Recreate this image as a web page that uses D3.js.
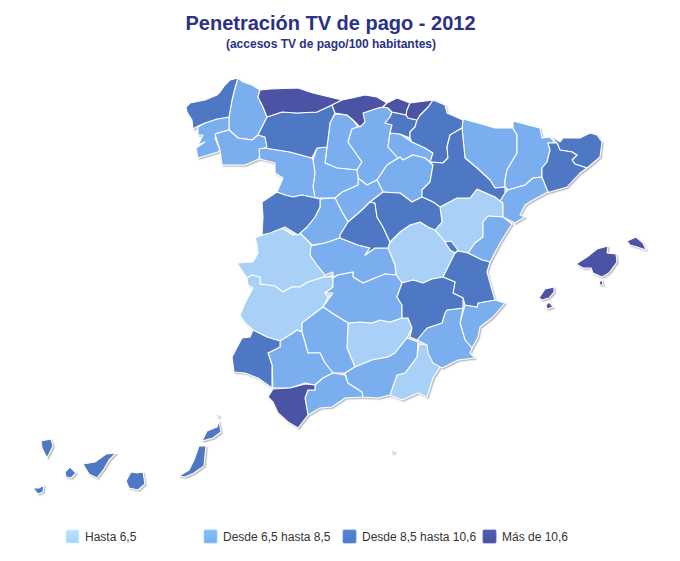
<!DOCTYPE html>
<html>
<head>
<meta charset="utf-8">
<script src="https://d3js.org/d3.v7.min.js"></script>
<style>
  html, body { margin: 0; background: #fff; }
  text { font-family: "Liberation Sans", Arial, sans-serif; }
</style>
</head>
<body>
<div id="chart"></div>
<script>
var chartTitle = 'Penetración TV de pago - 2012';
var chartSubtitle = '(accesos TV de pago/100 habitantes)';
var bandLabels = ['Hasta 6,5', 'Desde 6,5 hasta 8,5', 'Desde 8,5 hasta 10,6', 'Más de 10,6'];
var bandColors = ['#a9d1f7', '#7aaeee', '#4f78c4', '#4b52a4'];

// province outlines, one list per legend band
var hasta65 = [
  ['Cáceres', [[255,238],[262,235],[272,230],[282,228],[293,235],[300,233],[312,245],[310,255],[317,265],[325,275],[324,277],[308,282],[300,287],[292,287],[283,292],[275,286],[260,284],[260,277],[252,275],[247,278],[237,263],[253,262],[258,253],[257,245]]],
  ['Badajoz', [[247,278],[252,275],[260,277],[260,284],[275,286],[283,292],[292,287],[300,287],[308,282],[324,277],[333,277],[333,287],[325,293],[328,297],[323,307],[302,323],[302,332],[297,330],[293,333],[280,341],[267,337],[253,330],[245,323],[240,315],[245,303],[253,288],[248,285]]],
  ['Teruel', [[440,207],[457,198],[470,198],[477,189],[495,197],[500,201],[503,203],[503,217],[488,216],[483,222],[483,237],[475,243],[468,253],[458,251],[453,247],[445,242],[435,230],[442,222]]],
  ['Cuenca', [[388,248],[390,242],[400,232],[410,225],[420,222],[428,227],[435,230],[445,242],[450,248],[455,253],[445,273],[443,278],[432,279],[423,283],[413,280],[402,283],[396,275],[395,265]]],
  ['Jaén', [[348,323],[360,322],[372,323],[380,320],[390,322],[402,318],[408,318],[412,328],[407,338],[395,353],[388,357],[372,360],[355,367],[347,348]]],
  ['Almería', [[419,344],[427,345],[432,358],[440,367],[433,378],[427,397],[418,393],[402,400],[390,395],[397,375],[405,373],[417,357]]]
];
var desde65a85 = [
  ['Lugo', [[238,78],[243,82],[252,85],[260,90],[258,97],[263,107],[267,117],[258,135],[252,140],[238,138],[229,130],[229,117],[232,100],[235,88]]],
  ['Pontevedra', [[198,127],[205,123],[217,119],[229,117],[229,130],[217,133],[215,138],[220,150],[218,152],[198,158],[196,148],[205,142],[198,145],[203,135],[198,135]]],
  ['Ourense', [[215,134],[229,130],[238,138],[252,140],[258,135],[265,137],[267,147],[260,150],[259,159],[245,165],[222,165],[220,150]]],
  ['Palencia', [[335,114],[347,115],[353,120],[358,127],[352,129],[348,142],[362,162],[357,170],[337,168],[325,163],[327,147],[330,123]]],
  ['Burgos', [[358,127],[363,113],[378,108],[383,107],[388,108],[392,112],[390,117],[385,123],[392,125],[390,133],[388,147],[398,158],[400,157],[387,165],[377,180],[367,185],[358,178],[357,170],[362,162],[348,142],[352,129]]],
  ['La Rioja', [[390,133],[400,134],[412,142],[425,148],[433,153],[430,162],[425,158],[413,155],[403,160],[398,158],[388,147]]],
  ['Soria', [[400,157],[403,160],[413,155],[425,158],[430,162],[433,165],[430,182],[422,190],[422,197],[412,202],[400,193],[397,193],[383,192],[377,180],[387,165]]],
  ['Segovia', [[335,198],[342,192],[358,185],[358,178],[367,185],[377,180],[383,192],[370,202],[362,210],[348,222],[342,212]]],
  ['Valladolid', [[313,160],[317,148],[327,147],[325,163],[337,168],[357,170],[358,178],[358,185],[342,192],[335,198],[320,198],[315,198],[313,187],[315,173]]],
  ['Zamora', [[259,149],[265,148],[290,152],[312,158],[313,160],[315,173],[313,187],[315,198],[302,195],[293,197],[285,195],[277,192],[283,178],[275,173],[275,163],[260,159]]],
  ['Ávila', [[320,199],[335,198],[342,212],[348,222],[340,235],[340,238],[325,243],[312,245],[300,233],[307,227],[315,217],[320,207]]],
  ['Toledo', [[311,246],[325,243],[340,238],[358,245],[370,248],[365,255],[375,248],[388,248],[395,265],[396,275],[385,274],[363,283],[353,277],[353,272],[338,275],[333,277],[333,272],[325,275],[317,265],[310,255]]],
  ['Ciudad Real', [[333,278],[338,275],[353,272],[353,277],[363,283],[385,274],[396,275],[402,283],[397,297],[402,305],[402,318],[390,322],[380,320],[372,323],[360,322],[348,323],[335,315],[323,307],[333,293],[325,293],[333,287]]],
  ['Huesca', [[463,119],[478,123],[495,128],[513,128],[517,135],[517,153],[507,170],[505,180],[505,187],[495,188],[490,180],[477,168],[465,158],[462,128]]],
  ['Lleida', [[513,121],[528,125],[540,128],[542,138],[550,137],[555,143],[548,143],[550,150],[547,162],[542,168],[542,177],[533,178],[525,185],[508,190],[505,187],[505,180],[507,170],[517,153],[517,135],[513,128]]],
  ['Tarragona', [[533,178],[542,177],[548,192],[533,200],[525,205],[520,215],[525,217],[515,223],[503,217],[503,203],[500,201],[505,193],[508,190],[525,185]]],
  ['Castellón', [[488,216],[503,217],[512,224],[500,243],[490,262],[482,260],[468,253],[475,243],[483,237],[483,222]]],
  ['Alicante', [[465,305],[477,307],[478,303],[495,300],[505,303],[493,317],[480,327],[478,337],[472,348],[465,340],[460,323],[463,312]]],
  ['Murcia', [[447,310],[463,308],[460,323],[465,340],[472,348],[470,353],[475,358],[458,360],[442,368],[433,363],[428,353],[427,345],[417,340],[427,328],[442,323],[445,313]]],
  ['Córdoba', [[323,307],[335,315],[348,323],[347,348],[355,367],[345,373],[333,373],[325,363],[320,353],[308,353],[302,332],[302,323]]],
  ['Sevilla', [[280,341],[293,333],[297,330],[302,332],[308,353],[320,353],[325,363],[333,373],[323,378],[315,385],[305,383],[290,388],[273,388],[272,365],[268,353],[280,347]]],
  ['Málaga', [[308,390],[315,390],[315,385],[323,378],[333,373],[345,375],[348,383],[362,392],[363,397],[345,398],[332,407],[320,408],[308,415],[305,398]]],
  ['Granada', [[345,373],[355,367],[372,360],[388,357],[395,353],[407,338],[418,342],[417,357],[405,373],[397,375],[390,395],[378,398],[363,397],[362,392],[348,383]]]
];
var desde85a106 = [
  ['A Coruña', [[186,107],[190,103],[205,100],[217,95],[220,92],[225,85],[230,80],[238,78],[235,88],[232,100],[229,117],[217,119],[205,123],[198,126],[193,129],[192,120],[187,112]]],
  ['León', [[267,117],[282,112],[297,113],[317,112],[332,105],[335,113],[330,123],[327,147],[317,148],[312,158],[290,152],[265,148],[267,147],[265,137],[258,135]]],
  ['Álava', [[392,112],[397,113],[406,115],[408,118],[417,120],[415,127],[410,132],[410,138],[400,134],[390,133],[392,125],[385,123],[390,117]]],
  ['Navarra', [[433,100],[445,105],[447,113],[463,120],[462,128],[450,135],[447,147],[448,158],[443,163],[430,162],[433,153],[425,148],[412,142],[410,138],[410,132],[415,127],[417,120],[420,115],[428,107]]],
  ['Zaragoza', [[462,128],[465,158],[477,168],[490,180],[495,188],[505,187],[505,193],[500,201],[495,197],[477,189],[470,198],[457,198],[440,207],[433,202],[422,197],[422,190],[430,182],[433,165],[430,162],[443,163],[448,158],[447,147],[450,135]]],
  ['Girona', [[550,135],[560,142],[563,138],[580,138],[590,133],[597,135],[602,142],[600,157],[593,163],[587,168],[575,164],[572,160],[577,155],[572,152],[560,150],[557,143]]],
  ['Barcelona', [[548,143],[557,143],[560,150],[572,152],[577,155],[572,160],[575,164],[587,168],[580,173],[567,187],[550,192],[548,192],[542,177],[542,168],[547,162],[550,150]]],
  ['Salamanca', [[262,202],[277,192],[285,195],[293,197],[302,195],[320,199],[320,207],[315,217],[307,227],[298,235],[285,227],[270,233],[262,235],[263,217]]],
  ['Madrid', [[348,222],[362,210],[370,202],[375,203],[377,217],[383,227],[390,242],[388,248],[375,248],[365,255],[370,248],[358,245],[340,238],[340,235]]],
  ['Guadalajara', [[375,203],[370,202],[383,192],[397,193],[400,193],[412,202],[422,197],[433,202],[440,207],[442,222],[435,230],[428,227],[420,222],[410,225],[400,232],[390,242],[383,227],[377,217]]],
  ['Valencia', [[458,251],[468,253],[482,260],[490,262],[487,272],[492,290],[495,300],[478,303],[477,307],[465,305],[463,298],[453,293],[455,282],[443,277],[445,273],[455,253]]],
  ['Rincón de Ademuz', [[445,242],[451,241],[458,250],[455,253],[450,250]]],
  ['Albacete', [[402,283],[413,280],[423,283],[432,279],[443,277],[455,282],[453,293],[463,298],[463,308],[447,310],[445,313],[442,323],[427,328],[417,340],[410,337],[412,328],[408,318],[402,318],[402,305],[397,297]]],
  ['Huelva', [[253,330],[267,337],[280,341],[280,347],[268,353],[272,365],[272,388],[258,378],[245,373],[234,372],[232,357],[242,338],[250,337]]],
  ['La Palma', [[41,441],[51,439],[53,446],[47,458],[42,448]]],
  ['La Gomera', [[65,472],[70,467],[76,473],[71,478],[66,477]]],
  ['El Hierro', [[33,488],[39,488],[44,485],[43,492],[38,494]]],
  ['Tenerife', [[83,464],[95,462],[106,454],[116,453],[109,460],[104,469],[97,478],[89,474]]],
  ['Gran Canaria', [[126,481],[131,472],[137,473],[143,472],[145,484],[138,490],[129,488]]],
  ['Fuerteventura', [[179,476],[189,470],[194,460],[199,446],[206,446],[204,466],[194,473],[185,477]]],
  ['Lanzarote', [[202,441],[207,431],[217,427],[219,421],[221,432],[213,438]]],
  ['Alegranza', [[217,415],[219,415],[219,417],[217,417]]]
];
var masDe106 = [
  ['Asturias', [[260,90],[270,89],[298,88],[313,93],[342,100],[332,105],[317,112],[297,113],[282,112],[267,117],[263,107],[258,97]]],
  ['Cantabria', [[342,100],[352,98],[365,95],[377,97],[387,103],[383,107],[378,108],[363,113],[365,122],[360,127],[353,120],[347,115],[335,113],[332,105]]],
  ['Vizcaya', [[383,107],[387,103],[397,98],[410,103],[407,110],[406,115],[397,113],[392,112],[388,108]]],
  ['Guipúzcoa', [[410,103],[433,100],[428,107],[420,115],[417,120],[408,118],[406,115],[407,110]]],
  ['Cádiz', [[273,389],[290,388],[305,384],[315,385],[315,390],[308,390],[305,398],[308,415],[298,428],[288,422],[278,413],[273,402],[268,397]]],
  ['Mallorca', [[576,264],[587,257],[597,249],[608,246],[607,253],[616,254],[617,262],[609,273],[602,277],[593,273],[591,268],[583,268]]],
  ['Menorca', [[627,241],[636,237],[643,243],[646,250],[637,247],[630,245]]],
  ['Ibiza', [[539,298],[545,289],[554,287],[554,292],[549,298],[542,300]]],
  ['Formentera', [[546,305],[549,302],[553,307],[547,309]]],
  ['Cabrera', [[599,282],[602,280],[603,285],[600,285]]],
  ['Ceuta', [[392,451],[394,451],[394,453],[392,453]]]
];

var width = 680, height = 561;

var svg = d3.select('#chart').append('svg')
  .attr('width', width)
  .attr('height', height)
  .style('display', 'block');

var defs = svg.append('defs');

var shadow = defs.append('filter')
  .attr('id', 'mapShadow')
  .attr('x', '-5%').attr('y', '-5%')
  .attr('width', '110%').attr('height', '110%');
shadow.append('feDropShadow')
  .attr('dx', 1.3).attr('dy', 1.3)
  .attr('stdDeviation', 0.7)
  .attr('flood-color', '#9a9a9a')
  .attr('flood-opacity', 0.65);

var color = d3.scaleOrdinal().domain(bandLabels).range(bandColors);

function toFeatures(list, band) {
  return list.map(function(d) {
    return {
      type: 'Feature',
      properties: { name: d[0], band: band },
      geometry: { type: 'Polygon', coordinates: [d[1].concat([d[1][0]])] }
    };
  });
}

var features = [].concat(
  toFeatures(hasta65, bandLabels[0]),
  toFeatures(desde65a85, bandLabels[1]),
  toFeatures(desde85a106, bandLabels[2]),
  toFeatures(masDe106, bandLabels[3])
);

// outlines are already in picture units, so no real projection here
var path = d3.geoPath(d3.geoIdentity());

svg.append('g')
  .attr('filter', 'url(#mapShadow)')
  .selectAll('path')
  .data(features)
  .enter().append('path')
  .attr('d', path)
  .attr('fill', function(d) { return color(d.properties.band); })
  .attr('stroke', '#fff')
  .attr('stroke-width', 1.1)
  .attr('stroke-linejoin', 'round')
  .append('title')
  .text(function(d) { return d.properties.name; });

svg.append('text')
  .attr('x', 330.5).attr('y', 30)
  .attr('text-anchor', 'middle')
  .attr('font-size', 20)
  .attr('font-weight', 'bold')
  .attr('fill', '#2a3186')
  .text(chartTitle);

svg.append('text')
  .attr('x', 331).attr('y', 48)
  .attr('text-anchor', 'middle')
  .attr('font-size', 12)
  .attr('font-weight', 'bold')
  .attr('fill', '#2a3186')
  .text(chartSubtitle);

// the reference leaves a wider gap after the first entry
var legendX = d3.scaleOrdinal().domain(bandLabels).range([66, 204, 343, 483]);

bandColors.forEach(function(c, i) {
  var grad = defs.append('linearGradient')
    .attr('id', 'swatch' + i)
    .attr('x1', 0).attr('y1', 0).attr('x2', 0).attr('y2', 1);
  grad.append('stop').attr('offset', '0%').attr('stop-color', d3.color(c).brighter(0.25));
  grad.append('stop').attr('offset', '100%').attr('stop-color', c);
});

var legend = svg.append('g').selectAll('g')
  .data(bandLabels)
  .enter().append('g')
  .attr('transform', function(d) { return 'translate(' + legendX(d) + ',530)'; });

legend.append('rect')
  .attr('width', 13).attr('height', 13)
  .attr('rx', 1)
  .attr('fill', function(d, i) { return 'url(#swatch' + i + ')'; })
  .attr('stroke', function(d) { return d3.color(color(d)).brighter(0.5); })
  .attr('stroke-width', 0.8);

legend.append('text')
  .attr('x', 19).attr('y', 11)
  .attr('font-size', 12)
  .attr('fill', '#333')
  .text(function(d) { return d; });
</script>
</body>
</html>
